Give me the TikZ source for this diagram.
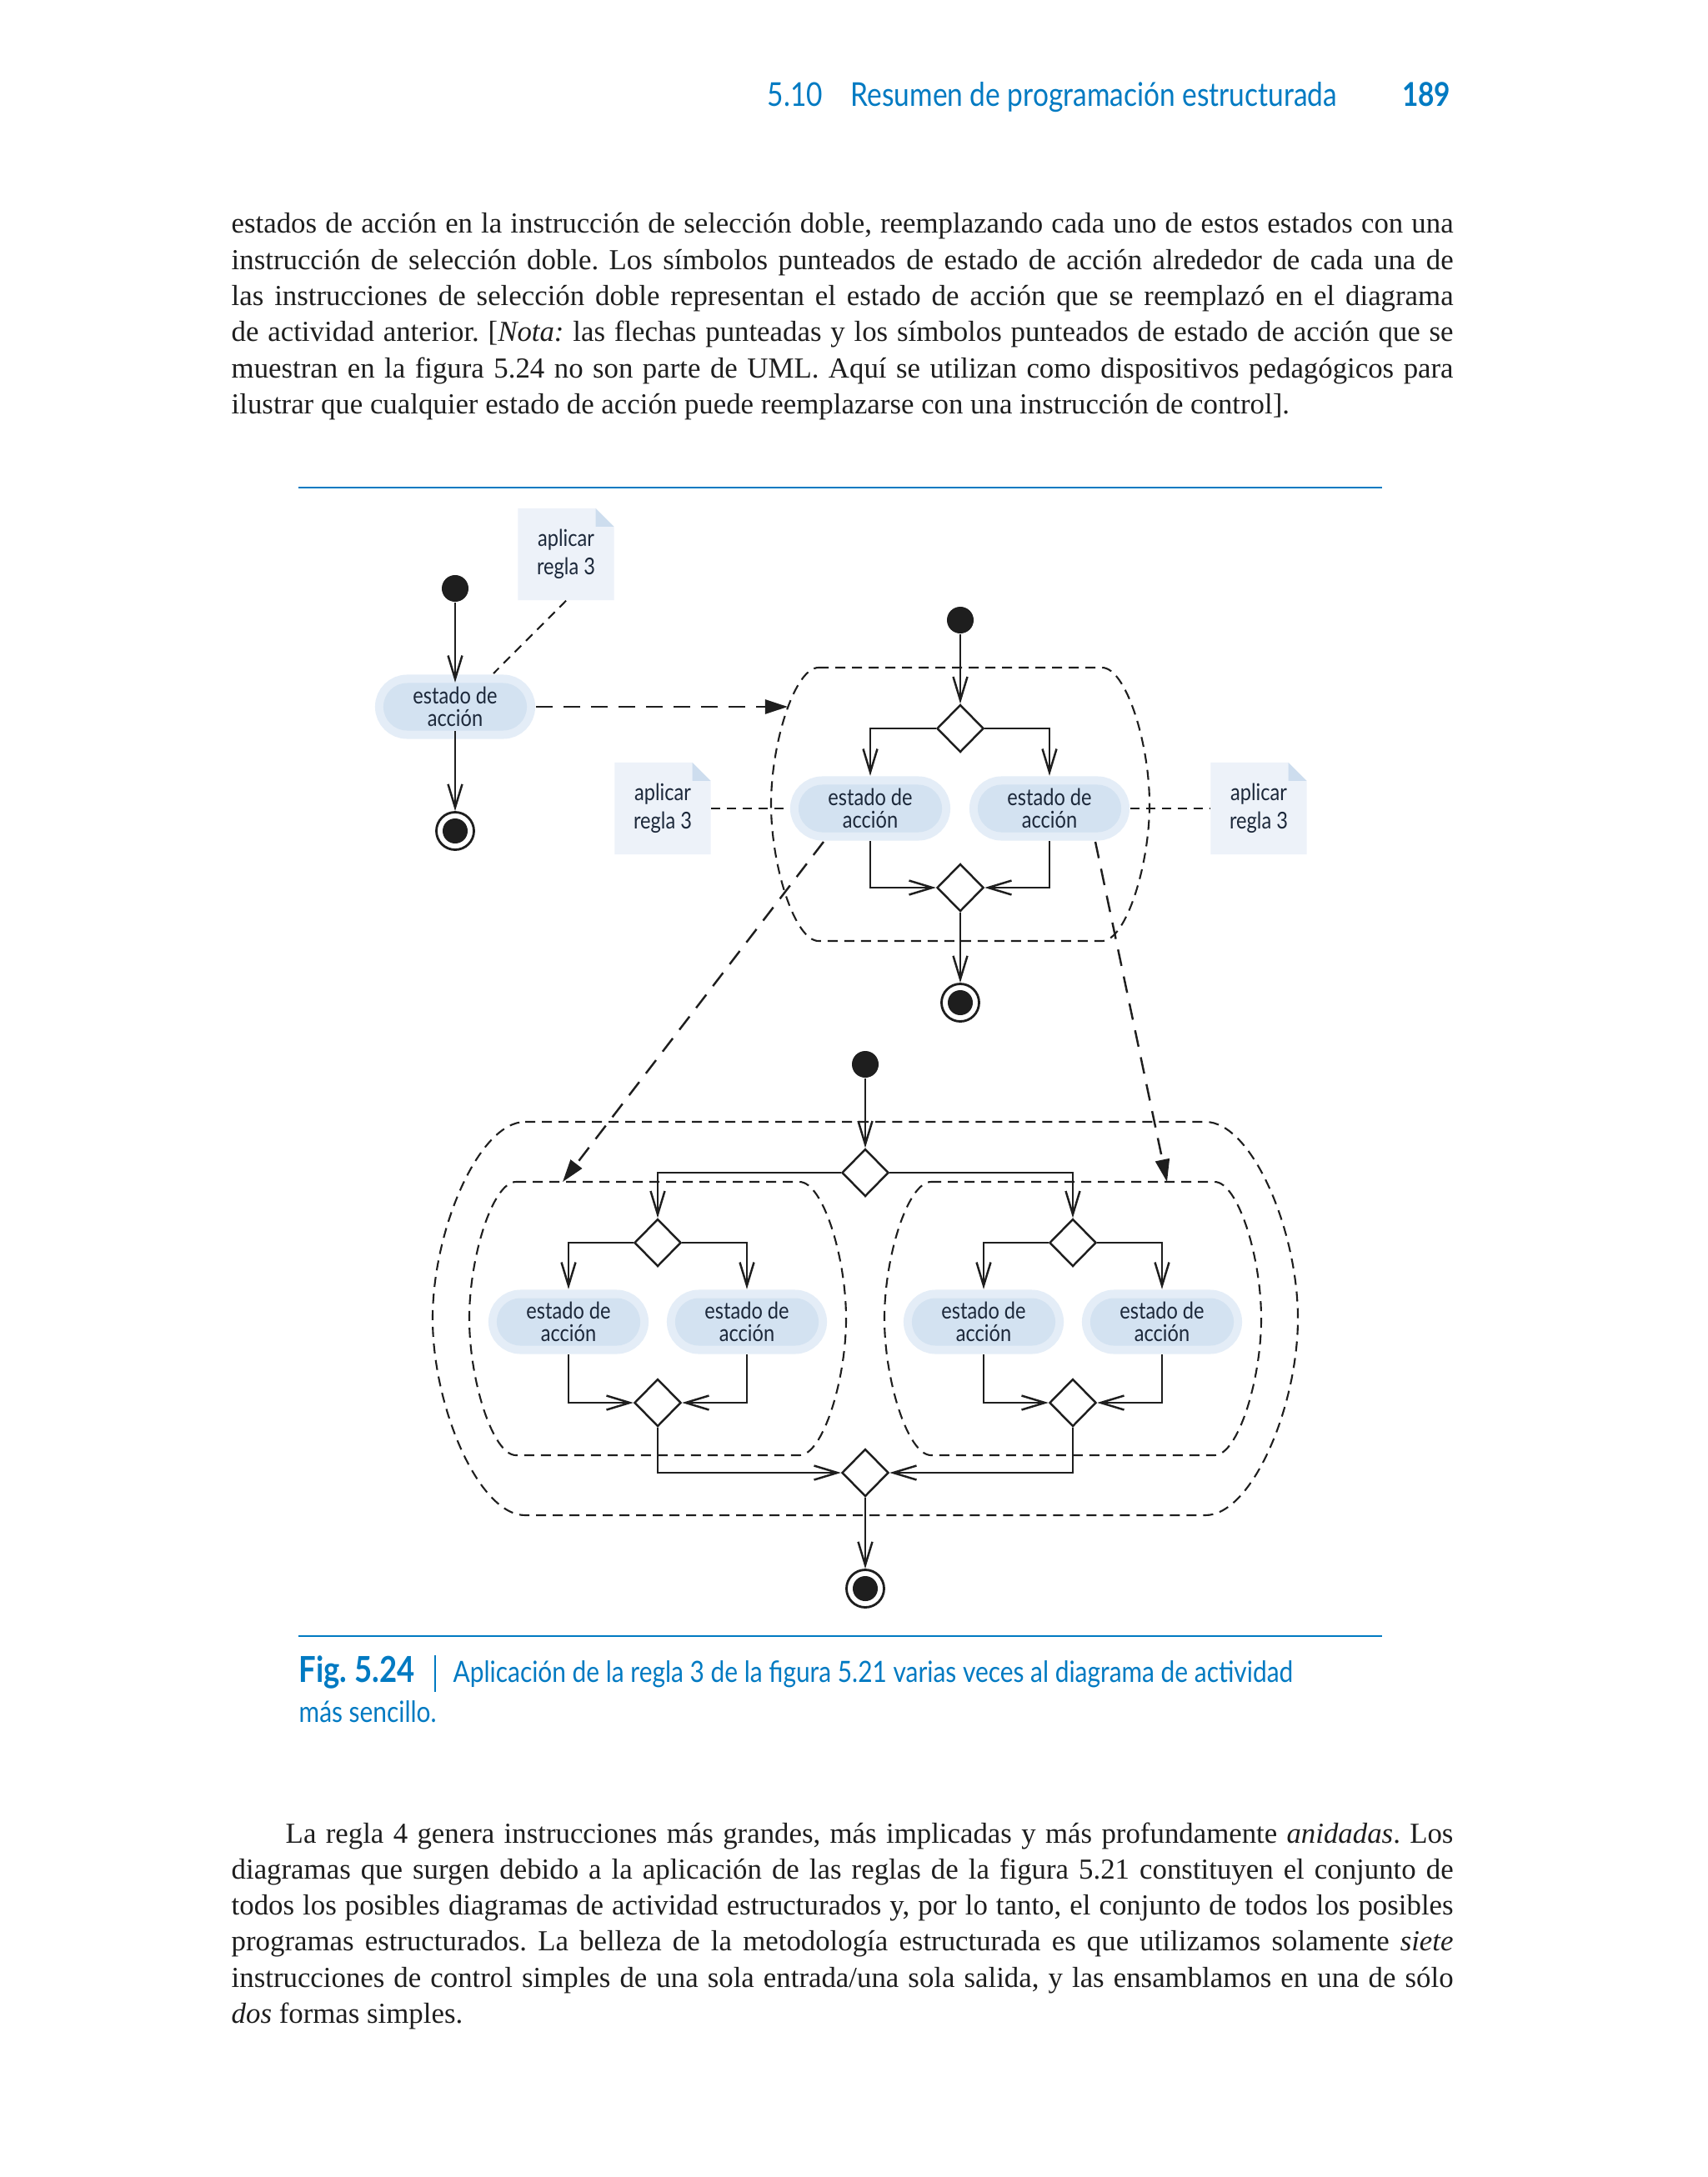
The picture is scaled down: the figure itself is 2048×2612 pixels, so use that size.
\documentclass[tikz,border=0pt]{standalone}
\usepackage{fontspec}
\setmainfont{Liberation Serif}
\newfontfamily\rotis[FakeStretch=0.85]{Lato}
\usetikzlibrary{arrows.meta,positioning,shapes.geometric}

\definecolor{azul}{RGB}{0,122,194}
\definecolor{tinta}{RGB}{30,30,30}
\definecolor{textodiag}{RGB}{28,40,58}
\definecolor{brillo}{RGB}{228,237,247}
\definecolor{relleno}{RGB}{211,226,241}
\definecolor{colornota}{RGB}{237,242,249}
\definecolor{colorpliegue}{RGB}{205,221,238}

\tolerance=10000
\hyphenpenalty=10000
\frenchspacing

% zona punteada: centro x, centro y, semiancho, tramo recto, semialto
\newcommand{\zona}[5]{%
  \draw[zonapunteada] ({#1-#4},{#2-#5}) -- ({#1+#4},{#2-#5})
    .. controls ({#1+#4+0.5*(#3-#4)},{#2-#5}) and ({#1+#3},{#2-0.45*#5}) .. ({#1+#3},#2)
    .. controls ({#1+#3},{#2+0.45*#5}) and ({#1+#4+0.5*(#3-#4)},{#2+#5}) .. ({#1+#4},{#2+#5})
    -- ({#1-#4},{#2+#5})
    .. controls ({#1-#4-0.5*(#3-#4)},{#2+#5}) and ({#1-#3},{#2+0.45*#5}) .. ({#1-#3},#2)
    .. controls ({#1-#3},{#2-0.45*#5}) and ({#1-#4-0.5*(#3-#4)},{#2-#5}) .. cycle;}

\begin{document}
\begin{tikzpicture}[x=0.01cm, y=-0.01cm,
	inicio/.style={circle, fill=tinta, inner sep=0, minimum size=0.32cm},
	final/.style={circle, draw=tinta, line width=0.8pt, inner sep=0, minimum size=0.45cm,
		path picture={\fill[tinta] (path picture bounding box.center) circle (0.15cm);}},
	accion/.style={rectangle, rounded corners=0.285cm, fill=relleno, inner sep=0,
		minimum width=1.72cm, minimum height=0.57cm, preaction={draw=brillo, line width=0.2cm},
		align=center, text=textodiag, font=\rotis\fontsize{7.9}{7.5}\selectfont},
	rombo/.style={diamond, draw=tinta, line width=0.7pt, fill=white, inner sep=0,
		minimum width=0.56cm, minimum height=0.57cm},
	nota/.style={rectangle, inner sep=0, minimum width=1.15cm, minimum height=1.1cm,
		align=center, text=textodiag, font=\rotis\fontsize{7.9}{9.6}\selectfont,
		path picture={
			\fill[colornota] (path picture bounding box.south west) -- (path picture bounding box.north west)
				-- ([xshift=-0.22cm]path picture bounding box.north east)
				-- ([yshift=-0.22cm]path picture bounding box.north east)
				-- (path picture bounding box.south east) -- cycle;
			\fill[colorpliegue] ([xshift=-0.22cm]path picture bounding box.north east)
				-- ([xshift=-0.22cm,yshift=-0.22cm]path picture bounding box.north east)
				-- ([yshift=-0.22cm]path picture bounding box.north east) -- cycle;}},
	flecha/.style={draw=tinta, line width=0.7pt, -{Straight Barb[length=0.28cm,width=0.17cm]}},
	salto/.style={draw=tinta, line width=0.7pt, dash pattern=on 0.2cm off 0.13cm,
		-{Triangle[length=0.27cm,width=0.17cm]}},
	guia/.style={draw=tinta, line width=0.6pt, dash pattern=on 0.11cm off 0.08cm},
	zonapunteada/.style={draw=tinta, line width=0.6pt, dash pattern=on 0.12cm off 0.08cm},
	cuerpo/.style={anchor=base west, inner sep=0, text width=14.65cm, align=justify, text=tinta,
		font=\fontsize{9.9}{12.3}\selectfont}]
	\fill[white] (0,0) rectangle (2048,2612);
	\useasboundingbox (0,0) rectangle (2048,2612);

	% cabecera
	\node[anchor=base west, inner sep=0, text=azul, font=\rotis\fontsize{11.2}{13}\selectfont] (titulo) at (1020,128) {Resumen de programación estructurada};
	\node[anchor=base west, inner sep=0, text=azul, font=\rotis\fontsize{11.2}{13}\selectfont] (seccion) at (920,128) {5.10};
	\node[anchor=base east, inner sep=0, text=azul, font=\rotis\bfseries\fontsize{11.2}{13}\selectfont] (pagina) at (1741,128) {189};

	% texto superior
	\node[cuerpo] (parrafo1) at (277,280) {estados de acción en la instrucción de selección doble, reemplazando cada uno de estos estados con una\linebreak
		instrucción de selección doble. Los símbolos punteados de estado de acción alrededor de cada una de\linebreak
		las instrucciones de selección doble representan el estado de acción que se reemplazó en el diagrama\linebreak
		de actividad anterior. [\textit{Nota:} las flechas punteadas y los símbolos punteados de estado de acción que se\linebreak
		muestran en la figura 5.24 no son parte de UML. Aquí se utilizan como dispositivos pedagógicos para\linebreak
		ilustrar que cualquier estado de acción puede reemplazarse con una instrucción de control].};

	\draw[azul, line width=0.6pt] (358,585) -- (1658,585);
	\draw[azul, line width=0.6pt] (358,1963) -- (1658,1963);

	% zonas
	\zona{1152}{965}{227}{170}{164}
	\zona{1038}{1582}{519}{408}{236}
	\zona{789}{1582}{226}{170}{164}
	\zona{1287}{1582}{226}{170}{164}

	% diagrama simple
	\node[inicio] (i1) at (546,706) {};
	\node[accion] (a1) at (546,848) {estado de\\acción};
	\node[final] (f1) at (546,997) {};
	\node[nota] (n1) at (679,665) {aplicar\\regla 3};
	\coordinate (c1) at (592,808);
	\coordinate (z1) at (945,848);
	\draw[flecha] (i1) -- (a1);
	\draw[flecha] (a1) -- (f1);
	\draw[guia] (n1.south) -- (c1);
	\draw[salto] ([xshift=0.1cm]a1.east) -- (z1);

	% seleccion doble
	\node[inicio] (i2) at (1152,744) {};
	\node[rombo] (d2) at (1152,874) {};
	\node[accion] (a2) at (1044,970) {estado de\\acción};
	\node[accion] (a3) at (1259,970) {estado de\\acción};
	\node[rombo] (m2) at (1152,1065) {};
	\node[final] (f2) at (1152,1203) {};
	\node[nota] (n2) at (795,970) {aplicar\\regla 3};
	\node[nota] (n3) at (1510,970) {aplicar\\regla 3};
	\draw[flecha] (i2) -- (d2);
	\draw[flecha] (d2.west) -| ([yshift=0.1cm]a2.north);
	\draw[flecha] (d2.east) -| ([yshift=0.1cm]a3.north);
	\draw[flecha] ([yshift=-0.1cm]a2.south) |- (m2.west);
	\draw[flecha] ([yshift=-0.1cm]a3.south) |- (m2.east);
	\draw[flecha] (m2) -- (f2);
	\draw[guia] (n2.east) -- ([xshift=-0.1cm]a2.west);
	\draw[guia] ([xshift=0.1cm]a3.east) -- (n3.west);
	\coordinate (z2) at (675,1418);
	\coordinate (z3) at (1400,1418);
	\draw[salto] ([xshift=-0.56cm,yshift=-0.4cm]a2.center) -- (z2);
	\draw[salto] ([xshift=0.55cm,yshift=-0.4cm]a3.center) -- (z3);

	% seleccion doble anidada
	\node[inicio] (i4) at (1038,1277) {};
	\node[rombo] (d4) at (1038,1407) {};
	\node[rombo] (d5) at (789,1491) {};
	\node[rombo] (d6) at (1287,1491) {};
	\node[accion] (a4) at (682,1586) {estado de\\acción};
	\node[accion] (a5) at (896,1586) {estado de\\acción};
	\node[accion] (a6) at (1180,1586) {estado de\\acción};
	\node[accion] (a7) at (1394,1586) {estado de\\acción};
	\node[rombo] (m5) at (789,1683) {};
	\node[rombo] (m6) at (1287,1683) {};
	\node[rombo] (m4) at (1038,1767) {};
	\node[final] (f4) at (1038,1906) {};
	\draw[flecha] (i4) -- (d4);
	\draw[flecha] (d4.west) -| (d5.north);
	\draw[flecha] (d4.east) -| (d6.north);
	\draw[flecha] (d5.west) -| ([yshift=0.1cm]a4.north);
	\draw[flecha] (d5.east) -| ([yshift=0.1cm]a5.north);
	\draw[flecha] (d6.west) -| ([yshift=0.1cm]a6.north);
	\draw[flecha] (d6.east) -| ([yshift=0.1cm]a7.north);
	\draw[flecha] ([yshift=-0.1cm]a4.south) |- (m5.west);
	\draw[flecha] ([yshift=-0.1cm]a5.south) |- (m5.east);
	\draw[flecha] ([yshift=-0.1cm]a6.south) |- (m6.west);
	\draw[flecha] ([yshift=-0.1cm]a7.south) |- (m6.east);
	\draw[flecha] (m5.south) |- (m4.west);
	\draw[flecha] (m6.south) |- (m4.east);
	\draw[flecha] (m4) -- (f4);

	% leyenda
	\node[anchor=base west, inner sep=0, text=azul, font=\rotis\bfseries\fontsize{12.2}{14}\selectfont] (fig) at (358,2018) {Fig. 5.24};
	\draw[azul, line width=0.5pt] (522,1986) -- (522,2030);
	\node[anchor=base west, inner sep=0, text=azul, font=\rotis\fontsize{10}{12}\selectfont] (leyenda) at (543,2018) {Aplicación de la regla 3 de la figura 5.21 varias veces al diagrama de actividad};
	\node[anchor=base west, inner sep=0, text=azul, font=\rotis\fontsize{10}{12}\selectfont] (leyenda2) at (358,2066) {más sencillo.};

	% texto inferior
	\node[cuerpo] (parrafo2) at (277,2211) {\hspace*{0.65cm}La regla 4 genera instrucciones más grandes, más implicadas y más profundamente \textit{anidadas}. Los\linebreak
		diagramas que surgen debido a la aplicación de las reglas de la figura 5.21 constituyen el conjunto de\linebreak
		todos los posibles diagramas de actividad estructurados y, por lo tanto, el conjunto de todos los posibles\linebreak
		programas estructurados. La belleza de la metodología estructurada es que utilizamos solamente \textit{siete}\linebreak
		instrucciones de control simples de una sola entrada/una sola salida, y las ensamblamos en una de sólo\linebreak
		\textit{dos} formas simples.};
\end{tikzpicture}
\end{document}
